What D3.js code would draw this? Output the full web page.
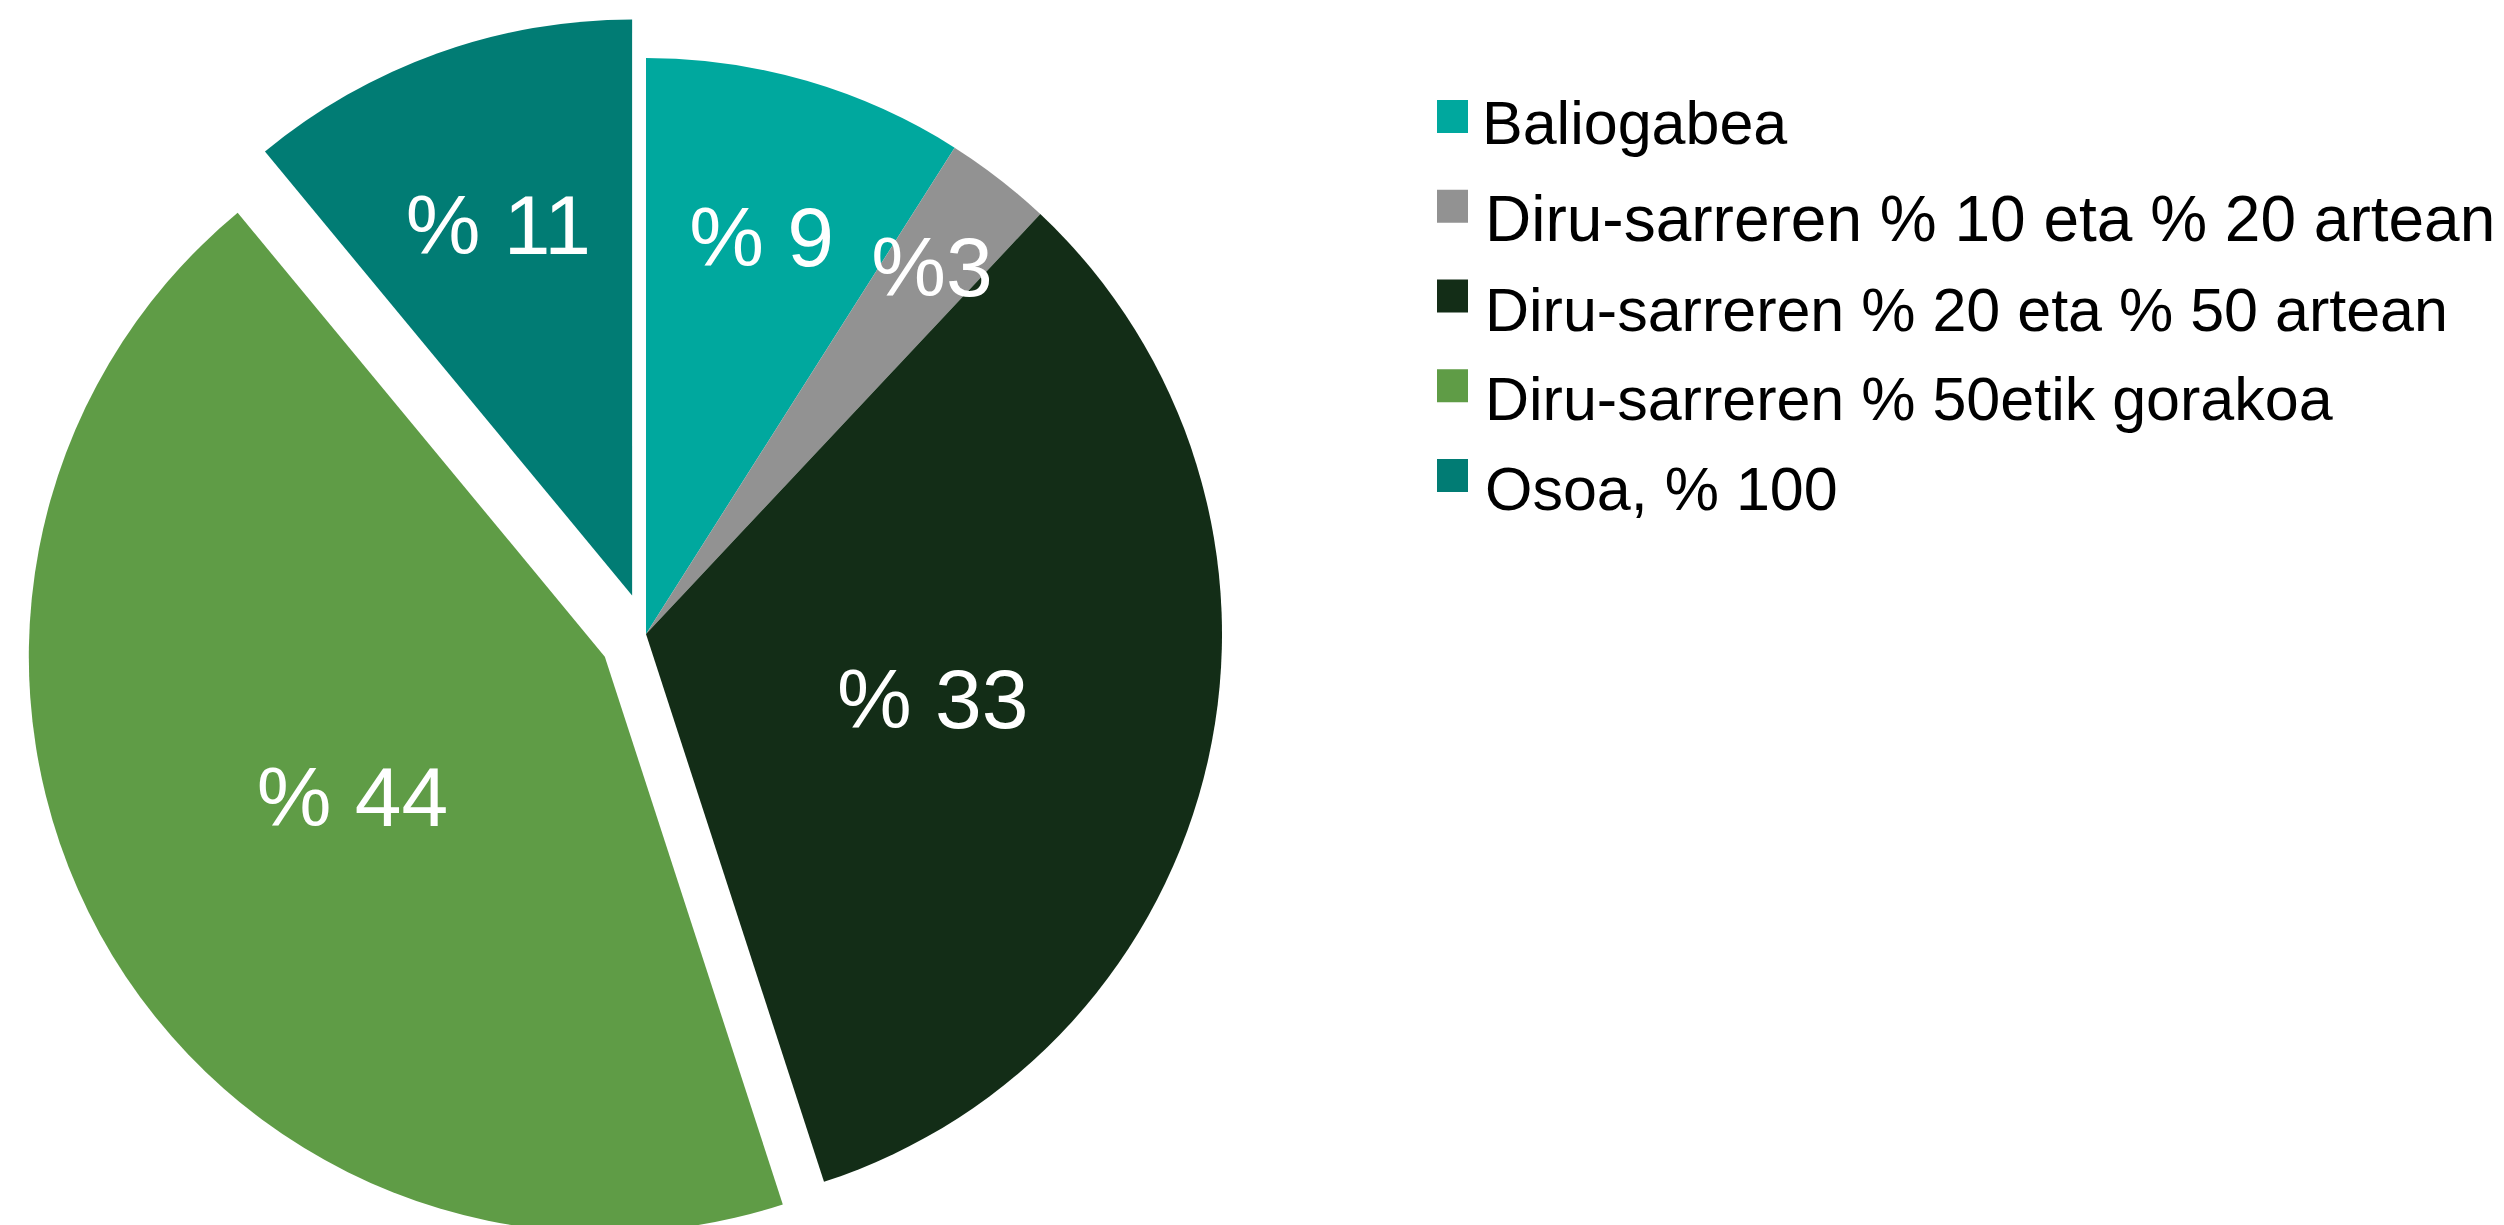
<!DOCTYPE html>
<html>
<head>
<meta charset="utf-8">
<script src="https://cdn.jsdelivr.net/npm/d3@7"></script>
<style>
  body { margin: 0; background: #fff; }
  text { font-family: "Liberation Sans", Arial, sans-serif; }
</style>
</head>
<body>
<svg class="chart" width="2504" height="1225"></svg>
<script>
// Data
const categories = [
	"Baliogabea",
	"Diru-sarreren % 10 eta % 20 artean",
	"Diru-sarreren % 20 eta % 50 artean",
	"Diru-sarreren % 50etik gorakoa",
	"Osoa, % 100"
]
const values = [9, 3, 33, 44, 11]
const sliceLabels = ["% 9", "%3", "% 33", "% 44", "% 11"]

const colors = ["#00a89e", "#929292", "#132d17", "#5f9c46", "#017c74"]

// how far each slice is pulled out, and where its label sits (fraction of radius)
const explode = [0, 0, 0, 47, 41]
const labelRatio = [0.72, 0.81, 0.51, 0.5, 0.685]

const svg = d3.select("svg.chart")
const cx = 646, cy = 634, radius = 576

const pie = d3.pie().sort(null).value(d => d.value)
const arc = d3.arc().innerRadius(0).outerRadius(radius)

const rows = categories.map((c, i) => ({ name: c, value: values[i], label: sliceLabels[i], i: i }))
const arcs = pie(rows)

const midAngle = d => (d.startAngle + d.endAngle) / 2
const shift = d => {
	const off = explode[d.data.i]
	return "translate(" + (Math.sin(midAngle(d)) * off) + "," + (-Math.cos(midAngle(d)) * off) + ")"
}

const pieG = svg.append("g")
	.attr("transform", "translate(" + cx + "," + cy + ")")

// slices first, labels in their own layer so none gets covered
pieG.append("g")
	.selectAll("path")
	.data(arcs)
	.enter()
	.append("path")
	.attr("transform", shift)
	.attr("d", arc)
	.attr("fill", d => colors[d.data.i])

pieG.append("g")
	.selectAll("text")
	.data(arcs)
	.enter()
	.append("text")
	.attr("transform", shift)
	.attr("x", d => Math.sin(midAngle(d)) * radius * labelRatio[d.data.i])
	.attr("y", d => -Math.cos(midAngle(d)) * radius * labelRatio[d.data.i])
	.attr("dy", "0.36em")
	.attr("text-anchor", "middle")
	.attr("fill", "#fff")
	.attr("font-size", 84)
	.text(d => d.data.label)

// Legend
const legendY = d3.scaleLinear().domain([0, 4]).range([100, 459])

const legend = svg.append("g")
	.selectAll("g")
	.data(rows)
	.enter()
	.append("g")
	.attr("transform", d => "translate(1437," + legendY(d.i) + ")")

legend.append("rect")
	.attr("width", 31)
	.attr("height", 33)
	.attr("fill", d => colors[d.i])

legend.append("text")
	.attr("x", d => d.i === 0 ? 45 : 48)
	.attr("y", d => d.i === 0 ? 44 : 51)
	.attr("font-size", d => d.i === 1 ? 64 : 61)
	.attr("fill", "#000")
	.text(d => d.name)
</script>
</body>
</html>
